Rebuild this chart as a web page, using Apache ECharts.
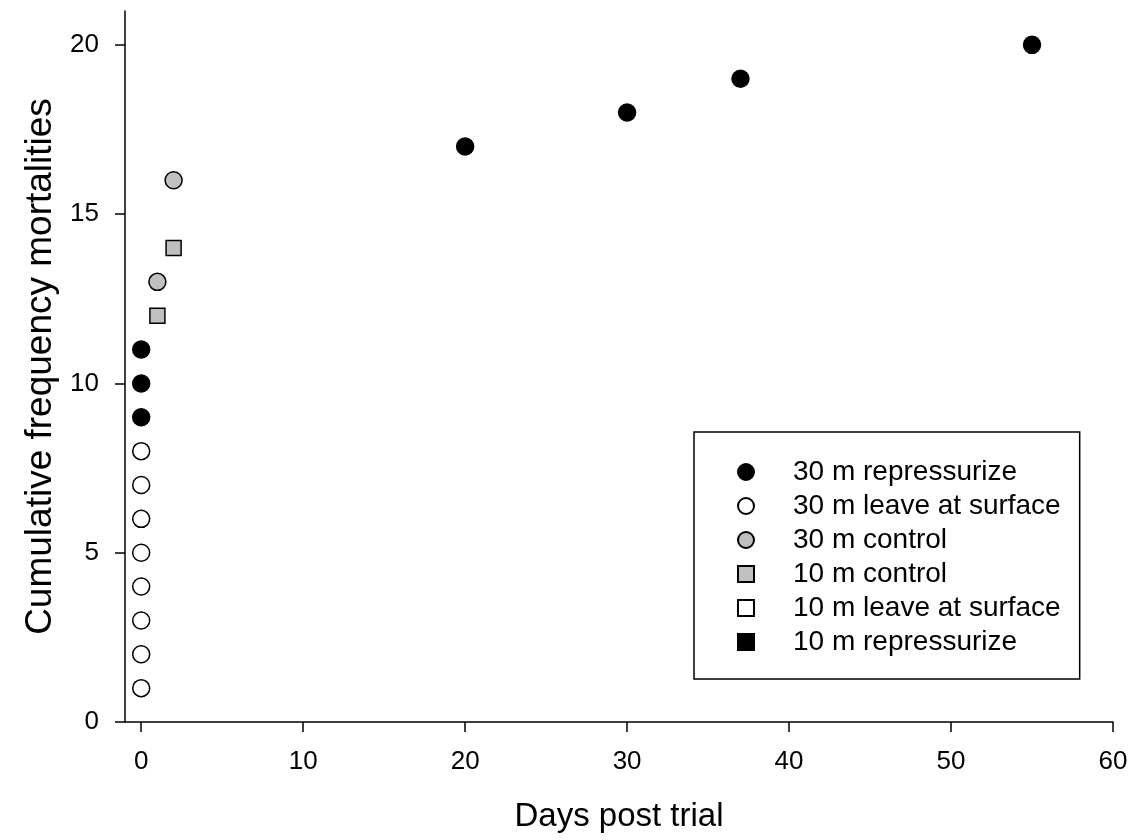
<!DOCTYPE html>
<html>
<head>
<meta charset="utf-8">
<script src="https://cdn.jsdelivr.net/npm/echarts@6/dist/echarts.min.js"></script>
<style>
html,body{margin:0;padding:0;background:#fff;}
#chart{width:1136px;height:840px;}
</style>
</head>
<body>
<div id="chart"></div>
<script>
// ---- data ----
const xTicks = [0, 10, 20, 30, 40, 50, 60];
const yTicks = [0, 5, 10, 15, 20];

const rep30Days = [0, 0, 0, 20, 30, 37, 55];
const rep30Cum  = [9, 10, 11, 17, 18, 19, 20];

const leave30Days = [0, 0, 0, 0, 0, 0, 0, 0];
const leave30Cum  = [1, 2, 3, 4, 5, 6, 7, 8];

const ctrl30Days = [1, 2];
const ctrl30Cum  = [13, 16];

const ctrl10Days = [1, 2];
const ctrl10Cum  = [12, 14];

const leave10Days = [];
const leave10Cum  = [];

const rep10Days = [];
const rep10Cum  = [];

const seriesNames = [
  '30 m repressurize',
  '30 m leave at surface',
  '30 m control',
  '10 m control',
  '10 m leave at surface',
  '10 m repressurize'
];

function pairs(xs, ys) { return xs.map((x, i) => [x, ys[i]]); }

const FONT = 'Liberation Sans, Arial, Helvetica, sans-serif';

function mk(name, xs, ys, symbol, fill, size) {
  return {
    name: name,
    type: 'scatter',
    data: pairs(xs, ys),
    symbol: symbol,
    symbolSize: size,
    itemStyle: { color: fill, borderColor: '#000', borderWidth: 1.5, opacity: 1 },
    emphasis: { disabled: true }
  };
}

const chart = echarts.init(document.getElementById('chart'), null, { renderer: 'canvas' });
chart.setOption({
  animation: false,
  backgroundColor: '#fff',
  grid: { left: 125, right: 23, top: 11, bottom: 118, containLabel: false, outerBoundsMode: 'none' },
  xAxis: {
    type: 'value',
    min: -1, max: 60,
    name: 'Days post trial',
    nameLocation: 'middle',
    nameGap: 78,
    nameTextStyle: { fontFamily: FONT, fontSize: 33, color: '#000' },
    axisLine: { show: true, onZero: false, lineStyle: { color: '#000', width: 1.5 } },
    axisTick: { show: true, length: 10, lineStyle: { color: '#000', width: 1.5 }, customValues: xTicks },
    axisLabel: { fontFamily: FONT, fontSize: 26, color: '#000', margin: 27, customValues: xTicks },
    splitLine: { show: false }
  },
  yAxis: {
    type: 'value',
    min: 0, max: 21,
    name: 'Cumulative frequency mortalities',
    nameLocation: 'middle',
    nameGap: 66,
    nameTextStyle: { fontFamily: FONT, fontSize: 37, color: '#000' },
    axisLine: { show: true, onZero: false, lineStyle: { color: '#000', width: 1.5 } },
    axisTick: { show: true, length: 10, lineStyle: { color: '#000', width: 1.5 }, customValues: yTicks },
    axisLabel: { fontFamily: FONT, fontSize: 26, color: '#000', margin: 26, customValues: yTicks },
    splitLine: { show: false }
  },
  legend: {
    orient: 'vertical',
    left: 694,
    top: 432,
    padding: [26, 19, 23, 43],
    itemWidth: 16,
    itemHeight: 16,
    itemGap: 6,
    borderColor: '#000',
    borderWidth: 1.5,
    borderRadius: 0,
    backgroundColor: '#fff',
    textStyle: { fontFamily: FONT, fontSize: 28, color: '#000', padding: [0, 0, 0, 34] },
    data: seriesNames,
    selectedMode: false
  },
  series: [
    mk(seriesNames[0], rep30Days, rep30Cum, 'circle', '#000', 17),
    mk(seriesNames[1], leave30Days, leave30Cum, 'circle', '#fff', 17),
    mk(seriesNames[2], ctrl30Days, ctrl30Cum, 'circle', '#c0c0c0', 17),
    mk(seriesNames[3], ctrl10Days, ctrl10Cum, 'rect', '#c0c0c0', 15),
    mk(seriesNames[4], leave10Days, leave10Cum, 'rect', '#fff', 15),
    mk(seriesNames[5], rep10Days, rep10Cum, 'rect', '#000', 15)
  ]
});
</script>
</body>
</html>
